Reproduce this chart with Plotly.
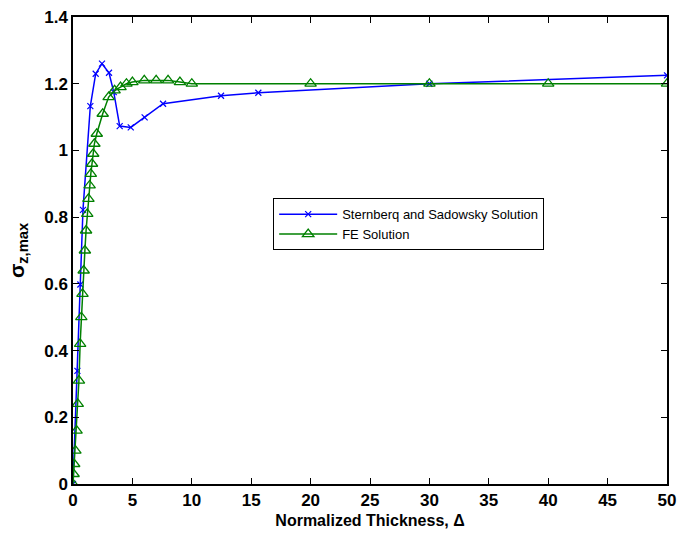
import plotly.graph_objects as go

# Sternberg and Sadowsky solution
ss_x = [0, 0.37, 0.62, 0.84, 1.46, 1.91, 2.44, 3.03, 3.43, 3.93, 4.86, 6.03, 7.58, 12.46, 15.6, 30, 50]
ss_y = [0.0, 0.339, 0.598, 0.822, 1.133, 1.230, 1.260, 1.233, 1.175, 1.073, 1.069, 1.099, 1.140, 1.164, 1.173, 1.200, 1.225]

# FE solution
fe_x = [0, 0.05, 0.1, 0.2, 0.3, 0.4, 0.5, 0.6, 0.7, 0.8, 0.9, 1.0, 1.1, 1.2, 1.3, 1.4, 1.5, 1.6,
        1.7, 1.8, 2.0, 2.5, 3.0, 3.5, 4.0, 4.5, 5, 6, 7, 8, 9, 10, 20, 30, 40, 50]
fe_y = [0.0, 0.03, 0.06, 0.10, 0.16, 0.24, 0.31, 0.42, 0.50, 0.57, 0.64, 0.70, 0.76, 0.81, 0.855,
        0.895, 0.93, 0.96, 0.99, 1.02, 1.05, 1.11, 1.16, 1.18, 1.19, 1.20, 1.205, 1.21, 1.21, 1.21,
        1.205, 1.20, 1.20, 1.20, 1.20, 1.20]

x_ticks = [0, 5, 10, 15, 20, 25, 30, 35, 40, 45, 50]
y_ticks = [0, 0.2, 0.4, 0.6, 0.8, 1, 1.2, 1.4]
y_tick_text = ["0", "0.2", "0.4", "0.6", "0.8", "1", "1.2", "1.4"]

fig = go.Figure()
fig.add_trace(go.Scatter(
    x=ss_x, y=ss_y, mode="lines+markers", name="Sternberq and Sadowsky Solution",
    line=dict(color="rgb(0,0,255)", width=1.5),
    marker=dict(symbol="x-thin", size=6, line=dict(color="rgb(0,0,255)", width=1.2)),
))
fig.add_trace(go.Scatter(
    x=fe_x, y=fe_y, mode="lines+markers", name="FE Solution",
    line=dict(color="rgb(0,128,0)", width=1.5),
    marker=dict(symbol="triangle-up-open", size=10, color="rgb(0,128,0)",
                line=dict(color="rgb(0,128,0)", width=1.3)),
))

tick_font = dict(family="Liberation Sans Narrow, Liberation Sans, Arial", size=17, color="black",
                 weight="bold")

fig.update_layout(
    width=689, height=535,
    margin=dict(l=73, r=22, t=17, b=51),
    paper_bgcolor="white", plot_bgcolor="white",
    showlegend=True,
    legend=dict(
        x=0.337, y=0.612, xanchor="left", yanchor="top",
        bgcolor="white", bordercolor="black", borderwidth=1,
        font=dict(family="Liberation Sans, Arial", size=13, color="black"),
        itemwidth=58, tracegroupgap=0,
    ),
    xaxis=dict(
        range=[0, 50], tickvals=x_ticks, ticktext=[str(v) for v in x_ticks],
        showgrid=False, zeroline=False, automargin=False,
        showline=True, linecolor="black", linewidth=1.5, mirror="ticks",
        ticks="inside", ticklen=6, tickcolor="black", tickwidth=1,
        tickfont=tick_font,
        title=dict(text="<b>Normalized Thickness, Δ</b>",
                   font=dict(family="Liberation Sans, Arial", size=16, color="black"), standoff=6),
    ),
    yaxis=dict(
        range=[0, 1.4], tickvals=y_ticks, ticktext=y_tick_text,
        showgrid=False, zeroline=False, automargin=False,
        showline=True, linecolor="black", linewidth=1.5, mirror="ticks",
        ticks="inside", ticklen=6, tickcolor="black", tickwidth=1,
        tickfont=tick_font,
        title=dict(text="<b>σ<sub>z,max</sub></b>",
                   font=dict(family="Liberation Sans, Arial", size=21, color="black"), standoff=14),
    ),
)

fig.write_html("out.html")
